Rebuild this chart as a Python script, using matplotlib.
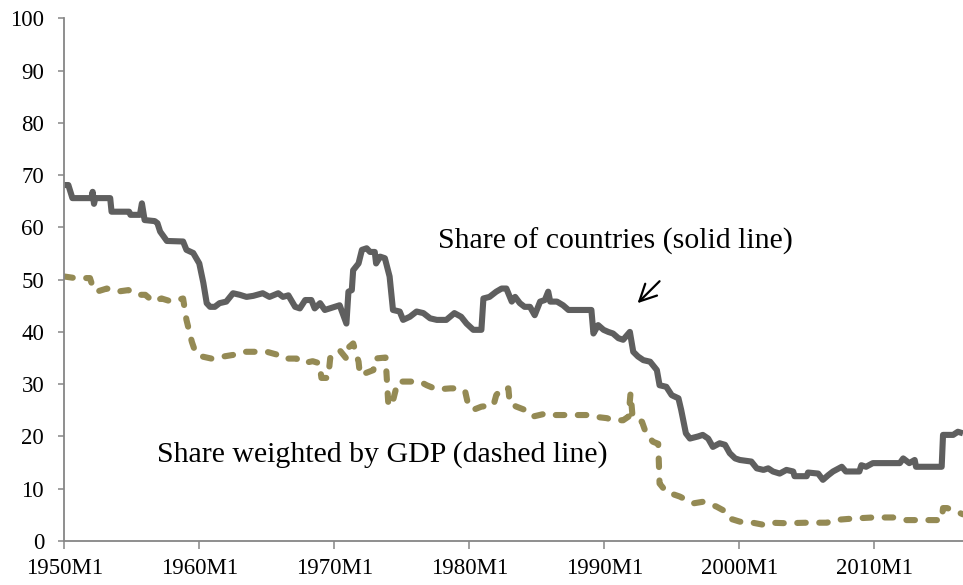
import matplotlib
matplotlib.use("Agg")
import matplotlib.pyplot as plt

plt.rcParams['font.family'] = ['Liberation Serif', 'DejaVu Serif']

# Share of countries (solid line): time (decimal year), value
solid_t = [1950.0, 1950.3, 1950.6, 1952.0, 1952.1, 1952.2, 1952.3, 1953.4, 1953.5, 1954.8,
           1954.9, 1955.6, 1955.75, 1955.95, 1956.7, 1956.9, 1957.1, 1957.6, 1958.8, 1959.05,
           1959.55, 1960.0, 1960.3, 1960.55, 1960.8, 1961.15, 1961.5, 1962.0, 1962.5, 1963.0,
           1963.5, 1964.0, 1964.7, 1965.2, 1965.85, 1966.2, 1966.6, 1967.1, 1967.45, 1967.85,
           1968.3, 1968.55, 1968.95, 1969.3, 1970.05, 1970.4, 1970.9, 1971.05, 1971.3, 1971.4,
           1971.8, 1972.05, 1972.4, 1972.65, 1973.0, 1973.1, 1973.4, 1973.75, 1974.1, 1974.35,
           1974.85, 1975.1, 1975.6, 1976.1, 1976.6, 1977.1, 1977.6, 1978.05, 1978.3, 1978.9,
           1979.4, 1979.8, 1980.3, 1980.9, 1981.05, 1981.5, 1982.0, 1982.4, 1982.75, 1983.15,
           1983.4, 1983.75, 1984.1, 1984.5, 1984.85, 1985.25, 1985.6, 1985.85, 1986.0, 1986.5,
           1986.95, 1987.35, 1988.2, 1989.05, 1989.2, 1989.55, 1989.95, 1990.3, 1990.65, 1991.05,
           1991.4, 1991.8, 1991.9, 1992.15, 1992.5, 1992.9, 1993.4, 1993.9, 1994.1, 1994.6,
           1995.0, 1995.5, 1995.7, 1996.05, 1996.35, 1996.95, 1997.3, 1997.7, 1998.05, 1998.55,
           1998.95, 1999.3, 1999.7, 2000.05, 2000.9, 2001.3, 2001.8, 2002.15, 2002.5, 2003.0,
           2003.5, 2004.0, 2004.1, 2005.0, 2005.1, 2005.85, 2006.2, 2006.6, 2006.95, 2007.6,
           2007.9, 2008.9, 2009.05, 2009.4, 2009.9, 2011.9, 2012.15, 2012.6, 2013.0, 2013.1,
           2015.0, 2015.1, 2015.85, 2016.2, 2016.58]
solid_v = [68.1, 68.1, 65.6, 65.6, 66.8, 64.5, 65.6, 65.6, 63.0, 63.0,
           62.4, 62.4, 64.6, 61.4, 61.2, 60.8, 59.2, 57.4, 57.3, 55.7,
           55.1, 53.1, 49.4, 45.5, 44.8, 44.8, 45.5, 45.8, 47.4, 47.1,
           46.7, 46.9, 47.4, 46.7, 47.4, 46.7, 47.0, 44.8, 44.5, 46.1,
           46.1, 44.5, 45.5, 44.2, 44.8, 45.1, 41.6, 47.7, 48.0, 51.8,
           53.1, 55.7, 56.0, 55.3, 55.3, 53.1, 54.4, 54.1, 50.6, 44.2,
           43.9, 42.3, 42.9, 43.9, 43.6, 42.6, 42.3, 42.3, 42.3, 43.6,
           42.9, 41.6, 40.4, 40.4, 46.4, 46.7, 47.7, 48.3, 48.3, 45.8,
           46.7, 45.5, 44.8, 44.8, 43.2, 45.8, 46.1, 47.7, 45.8, 45.8,
           45.1, 44.2, 44.2, 44.2, 39.7, 41.3, 40.4, 40.0, 39.7, 38.8,
           38.5, 39.7, 40.0, 36.2, 35.3, 34.6, 34.3, 32.7, 29.8, 29.5,
           27.9, 27.3, 25.1, 20.6, 19.6, 20.0, 20.3, 19.6, 18.0, 18.7,
           18.4, 16.8, 15.8, 15.5, 15.2, 13.9, 13.6, 13.9, 13.3, 12.9,
           13.6, 13.3, 12.4, 12.4, 13.1, 12.9, 11.7, 12.6, 13.3, 14.2,
           13.3, 13.3, 14.5, 14.2, 14.9, 14.9, 15.8, 14.9, 15.5, 14.2,
           14.2, 20.3, 20.3, 20.9, 20.6]

# Share weighted by GDP (dashed line)
dashed_t = [1950.0, 1950.8, 1951.9, 1952.15, 1952.4, 1953.15, 1953.9, 1954.75, 1955.4, 1956.0,
            1956.6, 1957.2, 1957.95, 1958.8, 1959.05, 1959.45, 1959.7, 1960.2, 1960.9, 1961.8,
            1962.5, 1963.25, 1965.0, 1965.7, 1966.2, 1967.2, 1967.7, 1968.4, 1968.9, 1969.05,
            1969.55, 1969.7, 1970.05, 1970.4, 1970.9, 1971.0, 1971.4, 1971.55, 1971.8, 1971.9,
            1972.3, 1972.9, 1973.0, 1973.8, 1974.0, 1974.25, 1974.55, 1974.75, 1975.4, 1976.35,
            1976.85, 1977.6, 1978.6, 1979.2, 1979.7, 1979.9, 1980.3, 1980.9, 1981.8, 1982.0,
            1982.4, 1982.9, 1983.0, 1983.5, 1984.1, 1984.7, 1985.2, 1985.7, 1986.1, 1988.7,
            1989.2, 1990.2, 1990.65, 1991.4, 1991.8, 1991.95, 1992.1, 1992.4, 1992.8, 1993.1,
            1993.6, 1994.0, 1994.1, 1994.6, 1995.6, 1996.6, 1997.3, 1998.3, 1998.8, 1999.3,
            2000.05, 2001.0, 2001.8, 2002.3, 2003.5, 2005.0, 2006.5, 2007.0, 2008.45, 2009.9,
            2011.4, 2012.4, 2015.0, 2015.1, 2015.4, 2015.85, 2016.58]
dashed_v = [50.6, 50.3, 50.3, 48.3, 47.7, 48.3, 47.7, 48.0, 47.1, 47.1,
            45.8, 46.4, 45.8, 46.4, 42.3, 38.1, 36.2, 35.3, 34.9, 35.3,
            35.6, 36.2, 36.2, 35.7, 34.9, 34.9, 34.0, 34.4, 34.0, 31.2,
            31.2, 35.0, 35.6, 36.5, 34.9, 36.9, 37.8, 36.5, 34.3, 31.8,
            32.1, 32.7, 34.9, 35.1, 26.4, 25.8, 28.9, 30.5, 30.5, 30.5,
            29.8, 29.0, 29.2, 29.2, 28.6, 26.3, 25.1, 25.7, 26.0, 27.9,
            29.2, 29.2, 26.3, 25.7, 25.1, 23.8, 24.1, 24.4, 24.1, 24.1,
            23.8, 23.5, 23.1, 23.1, 23.8, 28.3, 23.8, 23.5, 22.8, 20.6,
            19.0, 18.6, 11.0, 9.4, 8.5, 7.2, 7.5, 6.6, 5.9, 4.3,
            3.7, 3.5, 3.1, 3.5, 3.4, 3.5, 3.5, 4.0, 4.3, 4.5,
            4.5, 4.0, 4.0, 6.3, 6.3, 5.9, 5.1]

x_ticks = [1950, 1960, 1970, 1980, 1990, 2000, 2010]
x_tick_labels = ["1950M1", "1960M1", "1970M1", "1980M1", "1990M1", "2000M1", "2010M1"]
y_ticks = [0, 10, 20, 30, 40, 50, 60, 70, 80, 90, 100]

W, H = 963, 585
fig = plt.figure(figsize=(W / 100, H / 100), dpi=100)
ax = fig.add_axes([64.3 / W, (H - 541) / H, (W - 64.3) / W, (541 - 18.3) / H])

ax.plot(solid_t, solid_v, color='#5f5f5f', lw=4.4, solid_joinstyle='round',
        solid_capstyle='butt')
ax.plot(dashed_t, dashed_v, color='#948a54', lw=4.4, linestyle=(0, (1.4, 2.2)),
        dash_capstyle='round', dash_joinstyle='round')

ax.set_xlim(1950, 2016.58)
ax.set_ylim(0, 100)
ax.set_xticks(x_ticks)
ax.set_xticklabels(x_tick_labels)
ax.set_yticks(y_ticks)

for s in ['top', 'right']:
    ax.spines[s].set_visible(False)
for s in ['left', 'bottom']:
    ax.spines[s].set_color('#868686')
    ax.spines[s].set_linewidth(1.3)
ax.tick_params(axis='y', direction='out', length=4.5, width=1.1, color='#868686',
               labelsize=16.5, pad=10)
ax.tick_params(axis='x', direction='out', length=5.5, width=1.1, color='#868686',
               labelsize=16.5, pad=7)

ax.text(1977.68, 57.4, "Share of countries (solid line)", fontsize=21.5,
        ha='left', va='center')
ax.text(1956.87, 16.6, "Share weighted by GDP (dashed line)", fontsize=21.5,
        ha='left', va='center')
ax.annotate("", xy=(1992.47, 45.5), xytext=(1994.1, 49.7),
            arrowprops=dict(arrowstyle='->', color='black', lw=1.6,
                            mutation_scale=30, shrinkA=0, shrinkB=0))

fig.savefig("out.png", dpi=100)
